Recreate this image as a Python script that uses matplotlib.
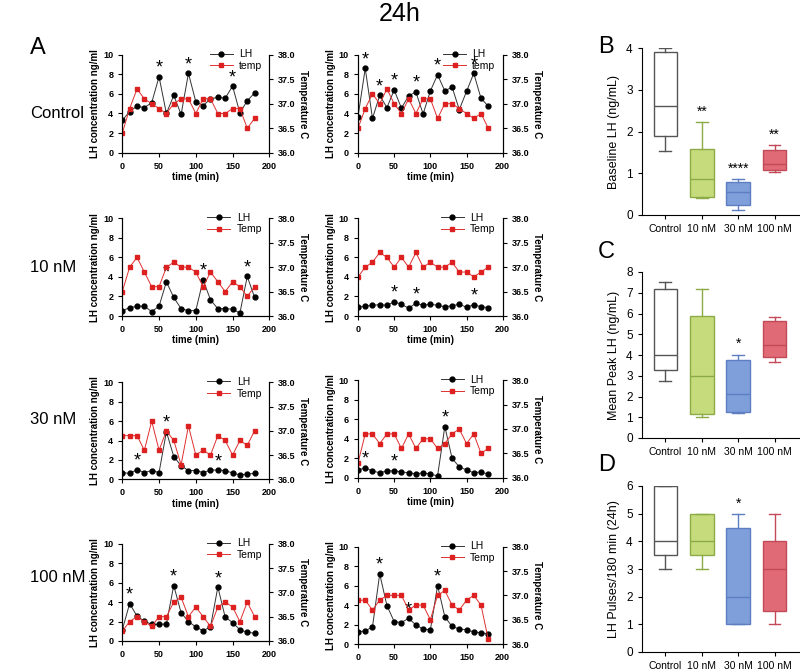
import matplotlib.pyplot as plt
import numpy as np

plt.rcParams['font.family'] = ['Liberation Sans', 'DejaVu Sans']

# ---- time series data (LH ng/ml and temperature C, sampled every 10 min) ----
time_min = list(range(0, 190, 10))

lh_ctrl_a = [3.3, 4.2, 4.75, 4.6, 5.1, 7.75, 4.0, 5.85, 3.9, 8.1, 5.2, 4.8, 5.5, 5.65, 5.55, 6.8, 4.05, 5.3, 6.1]
temp_ctrl_a = [36.4, 36.9, 37.3, 37.1, 37.0, 36.9, 36.8, 37.0, 37.1, 37.1, 36.8, 37.1, 37.1, 36.8, 36.8, 36.9, 36.9, 36.5, 36.7]
peaks_ctrl_a = [50, 90, 150]

lh_ctrl_b = [3.67, 8.6, 3.5, 5.85, 4.6, 6.4, 4.55, 5.8, 6.2, 3.95, 6.3, 7.95, 6.3, 6.7, 4.4, 6.25, 8.1, 5.55, 4.75]
temp_ctrl_b = [36.5, 36.9, 37.2, 37.0, 37.3, 37.0, 36.8, 37.1, 36.8, 37.1, 37.1, 36.7, 37.0, 37.0, 36.9, 36.8, 36.7, 36.8, 36.5]
peaks_ctrl_b = [10, 30, 50, 80, 110, 160]

lh_10_a = [0.55, 0.85, 1.0, 1.0, 0.45, 1.0, 3.5, 1.9, 0.75, 0.55, 0.55, 3.7, 1.65, 0.75, 0.75, 0.7, 0.3, 4.05, 1.9]
temp_10_a = [36.5, 37.0, 37.2, 36.9, 36.6, 36.6, 37.0, 37.1, 37.0, 37.0, 36.9, 36.6, 36.9, 36.7, 36.5, 36.7, 36.6, 36.4, 36.6]
peaks_10_a = [60, 110, 170]

lh_10_b = [0.9, 1.0, 1.1, 1.15, 1.1, 1.45, 1.2, 0.8, 1.3, 1.1, 1.2, 1.1, 0.95, 1.05, 1.2, 0.9, 1.15, 0.95, 0.85]
temp_10_b = [36.8, 37.0, 37.1, 37.3, 37.2, 37.0, 37.2, 37.0, 37.3, 37.0, 37.1, 37.0, 37.0, 37.1, 36.9, 36.9, 36.8, 36.9, 37.0]
peaks_10_b = [50, 80, 160]

lh_30_a = [0.7, 0.6, 1.0, 0.7, 0.9, 0.7, 4.9, 2.35, 1.4, 0.9, 0.9, 0.7, 0.95, 0.95, 0.9, 0.65, 0.45, 0.55, 0.6]
temp_30_a = [36.9, 36.9, 36.9, 36.6, 37.2, 36.6, 37.0, 36.8, 36.3, 37.1, 36.5, 36.6, 36.5, 36.9, 36.8, 36.5, 36.8, 36.7, 37.0]
peaks_30_a = [20, 60, 130]

lh_30_b = [0.8, 1.0, 0.7, 0.5, 0.7, 0.7, 0.6, 0.5, 0.4, 0.5, 0.35, 0.2, 5.25, 2.0, 1.1, 0.8, 0.5, 0.6, 0.35]
temp_30_b = [36.3, 36.9, 36.9, 36.7, 36.9, 36.9, 36.6, 36.9, 36.6, 36.8, 36.8, 36.6, 36.7, 36.9, 37.0, 36.7, 36.9, 36.5, 36.6]
peaks_30_b = [10, 50, 120]

lh_100_a = [1.15, 3.85, 2.55, 2.05, 1.7, 1.7, 1.75, 5.7, 2.9, 2.0, 1.45, 1.05, 1.45, 5.55, 2.45, 1.9, 1.15, 0.9, 0.8]
temp_100_a = [36.2, 36.4, 36.5, 36.4, 36.3, 36.5, 36.5, 36.8, 36.9, 36.5, 36.7, 36.5, 36.3, 36.7, 36.8, 36.7, 36.4, 36.8, 36.5]
peaks_100_a = [10, 70, 130]

lh_100_b = [1.25, 1.35, 1.75, 7.2, 3.95, 2.3, 2.2, 2.65, 1.95, 1.55, 1.45, 6.0, 2.8, 1.8, 1.55, 1.45, 1.25, 1.15, 1.05]
temp_100_b = [36.9, 36.9, 36.7, 36.9, 37.0, 37.0, 37.0, 36.7, 36.8, 36.8, 36.5, 37.0, 37.1, 36.8, 36.7, 36.9, 37.0, 36.8, 36.1]
peaks_100_b = [30, 70, 110]

row_labels = ['Control', '10 nM', '30 nM', '100 nM']

# ---- box plot summaries (whisker min, q1, median, q3, whisker max) ----
groups = ['Control', '10 nM', '30 nM', '100 nM']
baseline_lh = [[1.53, 1.9, 2.62, 3.9, 4.0], [0.4, 0.43, 0.87, 1.58, 2.22],
               [0.12, 0.24, 0.56, 0.8, 0.87], [1.02, 1.08, 1.23, 1.56, 1.67]]
baseline_sig = ['', '**', '****', '**']
peak_lh = [[2.75, 3.3, 4.02, 7.19, 7.53], [1.03, 1.14, 3.01, 5.86, 7.16],
           [1.22, 1.25, 2.1, 3.78, 4.02], [3.64, 3.88, 4.5, 5.62, 5.84]]
peak_sig = ['', '', '*', '']
pulses = [[3, 3.5, 4, 6, 6], [3, 3.5, 4, 5, 5], [1, 1, 2, 4.5, 5], [1, 1.5, 3, 4, 5]]
pulses_sig = ['', '', '*', '']

box_face = ['white', '#c6dc7c', '#7f9fda', '#e06a76']
box_edge = ['#555555', '#8caa45', '#5d7fc2', '#c24a58']

W, H = 800, 670
fig = plt.figure(figsize=(8, 6.7), dpi=100)


def rect(x0, x1, ytop, ybot):
    return [x0 / W, 1 - ybot / H, (x1 - x0) / W, (ybot - ytop) / H]


def lh_panel(pos, lh, temp, peaks, temp_name, show_xlabel=True):
    ax = fig.add_axes(pos)
    ax.plot(time_min, lh, color='#333333', lw=0.7, marker='o', ms=3.5,
            mfc='black', mec='black', label='LH', zorder=3)
    ax.set_xlim(0, 200)
    ax.set_ylim(0, 10)
    ax.set_xticks([0, 50, 100, 150, 200])
    ax.set_yticks([0, 2, 4, 6, 8, 10])
    ax.spines['top'].set_visible(False)
    ax.tick_params(labelsize=6.5, length=3, width=0.8)
    for lab in ax.get_xticklabels() + ax.get_yticklabels():
        lab.set_fontweight('bold')
    if show_xlabel:
        ax.set_xlabel('time (min)', fontsize=7, fontweight='bold', labelpad=1)
    ax.set_ylabel('LH concentration ng/ml', fontsize=7, fontweight='bold', labelpad=2)
    for p in peaks:
        ax.annotate('*', (p, lh[time_min.index(p)]), xytext=(0, 0), textcoords='offset points',
                    ha='center', va='bottom', fontsize=13)

    ax2 = ax.twinx()
    ax2.plot(time_min, temp, color='#e03030', lw=0.7, marker='s', ms=3.5,
             mfc='#dd2020', mec='#dd2020', label=temp_name, zorder=2)
    ax2.set_ylim(36.0, 38.0)
    ax2.set_yticks([36.0, 36.5, 37.0, 37.5, 38.0])
    ax2.set_yticklabels(['%.1f' % v for v in [36.0, 36.5, 37.0, 37.5, 38.0]])
    ax2.spines['top'].set_visible(False)
    ax2.tick_params(labelsize=6.5, length=3, width=0.8)
    for lab in ax2.get_yticklabels():
        lab.set_fontweight('bold')
    ax2.set_ylabel('Temperature C', fontsize=7, fontweight='bold', rotation=270, labelpad=9)
    h1, l1 = ax.get_legend_handles_labels()
    h2, l2 = ax2.get_legend_handles_labels()
    ax2.legend(h1 + h2, l1 + l2, loc='upper right', bbox_to_anchor=(1.0, 1.13),
               frameon=False, fontsize=7.5, handlelength=2.2, labelspacing=0.15,
               borderpad=0.2, handletextpad=0.6)


left_x = (122.3, 269.3)
right_x = (358, 502.7)
lh_panel(rect(*left_x, 54.7, 152.7), lh_ctrl_a, temp_ctrl_a, peaks_ctrl_a, 'temp')
lh_panel(rect(*right_x, 54.7, 152.7), lh_ctrl_b, temp_ctrl_b, peaks_ctrl_b, 'temp')
lh_panel(rect(*left_x, 218.3, 316), lh_10_a, temp_10_a, peaks_10_a, 'Temp')
lh_panel(rect(*right_x, 218.3, 316), lh_10_b, temp_10_b, peaks_10_b, 'Temp')
lh_panel(rect(*left_x, 382.3, 479.3), lh_30_a, temp_30_a, peaks_30_a, 'Temp')
lh_panel(rect(*right_x, 380.3, 477.7), lh_30_b, temp_30_b, peaks_30_b, 'Temp')
# bottom row: the x label falls below the figure edge in the reference
lh_panel(rect(*left_x, 543.7, 641), lh_100_a, temp_100_a, peaks_100_a, 'Temp', False)
lh_panel(rect(*right_x, 546.7, 644), lh_100_b, temp_100_b, peaks_100_b, 'Temp', False)


def box_panel(pos, summary, sig, ymax, ylabel):
    ax = fig.add_axes(pos)
    stats = []
    for g, s in zip(groups, summary):
        stats.append(dict(label=g, whislo=s[0], q1=s[1], med=s[2], q3=s[3], whishi=s[4]))
    bp = ax.bxp(stats, positions=range(len(groups)), widths=0.65, patch_artist=True,
                showfliers=False, manage_ticks=False)
    for i in range(len(groups)):
        bp['boxes'][i].set_facecolor(box_face[i])
        bp['boxes'][i].set_edgecolor(box_edge[i])
        bp['boxes'][i].set_linewidth(1.0)
        bp['medians'][i].set_color(box_edge[i])
        bp['medians'][i].set_linewidth(1.0)
        for k in (2 * i, 2 * i + 1):
            bp['whiskers'][k].set_color(box_edge[i])
            bp['caps'][k].set_color(box_edge[i])
        if sig[i]:
            ax.text(i, summary[i][4] + ymax * 0.02, sig[i], ha='center', va='bottom', fontsize=10)
    ax.set_xlim(-0.65, 3.7)
    ax.set_ylim(0, ymax)
    ax.set_xticks(range(len(groups)))
    ax.set_xticklabels(groups)
    ax.set_yticks(range(0, ymax + 1))
    ax.spines['top'].set_visible(False)
    ax.spines['right'].set_visible(False)
    ax.tick_params(axis='x', labelsize=7.5, length=3)
    ax.tick_params(axis='y', labelsize=8.5, length=3)
    ax.set_ylabel(ylabel, fontsize=9)
    return ax


box_panel(rect(641.7, 800, 48.3, 215), baseline_lh, baseline_sig, 4, 'Baseline LH (ng/mL)')
box_panel(rect(641.7, 800, 272, 438), peak_lh, peak_sig, 8, 'Mean Peak LH (ng/mL)')
box_panel(rect(641.7, 800, 486, 652), pulses, pulses_sig, 6, 'LH Pulses/180 min (24h)')

# ---- figure text ----
fig.text(400 / W, 1 - 14 / H, '24h', ha='center', va='center', fontsize=18)
fig.text(30 / W, 1 - 48 / H, 'A', ha='left', va='center', fontsize=17)
for lab, y in zip(row_labels, [113, 268, 420, 578]):
    fig.text(30 / W, 1 - y / H, lab, ha='left', va='center', fontsize=12)
fig.text(598 / W, 1 - 47 / H, 'B', ha='left', va='center', fontsize=17)
fig.text(598 / W, 1 - 252 / H, 'C', ha='left', va='center', fontsize=17)
fig.text(598 / W, 1 - 465 / H, 'D', ha='left', va='center', fontsize=17)

fig.savefig('out.png', dpi=100)
